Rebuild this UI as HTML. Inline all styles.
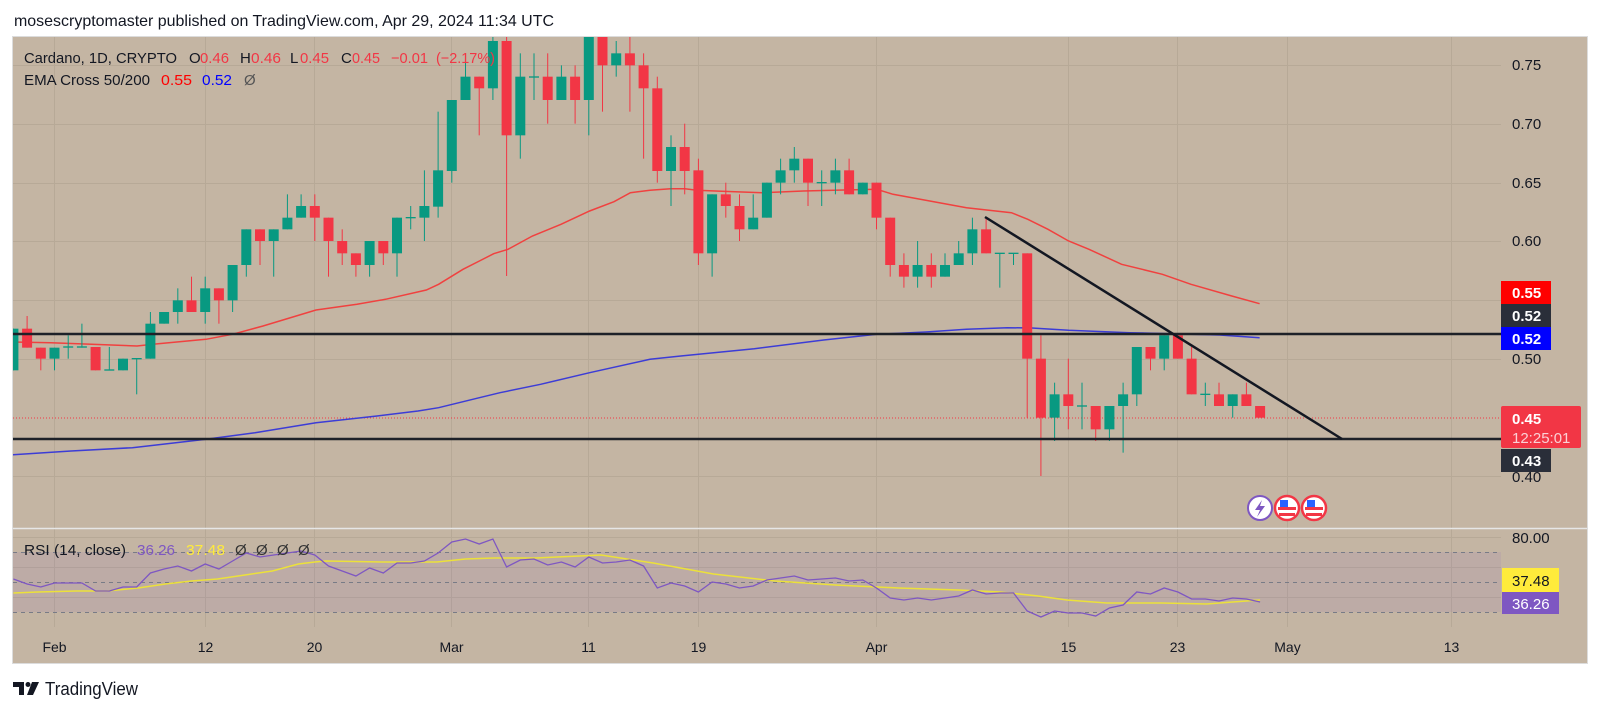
<!DOCTYPE html>
<html><head><meta charset="utf-8"><style>
html,body{margin:0;padding:0;background:#fff;}
svg{display:block;font-family:"Liberation Sans",sans-serif;}
</style></head><body>
<svg width="1600" height="712" viewBox="0 0 1600 712" xmlns="http://www.w3.org/2000/svg">
<defs>
<clipPath id="cp"><rect x="13" y="37" width="1488" height="491"/></clipPath>
<clipPath id="cr"><rect x="13" y="529" width="1488" height="98"/></clipPath>
</defs>
<rect width="1600" height="712" fill="#fff"/>
<text x="14" y="26" font-size="16" fill="#131722" textLength="540" lengthAdjust="spacingAndGlyphs">mosescryptomaster published on TradingView.com, Apr 29, 2024 11:34 UTC</text>
<rect x="12.5" y="36.5" width="1575" height="627" fill="#c4b5a3" stroke="#dcdcdc" stroke-width="1"/>
<!-- grid -->
<g stroke="#b7a997" stroke-width="1">
<path d="M54.5 37V627M205.5 37V627M314.5 37V627M451.5 37V627M588.5 37V627M698.5 37V627M876.5 37V627M1068.5 37V627M1177.5 37V627M1287.5 37V627M1451.5 37V627"/>
<path d="M13 65.5H1501M13 124.5H1501M13 183.5H1501M13 241.5H1501M13 300.5H1501M13 359.5H1501M13 476.5H1501"/>
<path d="M13 537.5H1501M13 567.5H1501M13 597.5H1501"/>
</g>
<!-- RSI band -->
<rect x="13" y="552" width="1488" height="60" fill="#7e57c2" fill-opacity="0.1"/>
<g stroke="#787b86" stroke-width="1" stroke-dasharray="4,4">
<path d="M13 552.5H1501M13 582.5H1501M13 612.5H1501"/>
</g>
<line x1="13" y1="528.5" x2="1587" y2="528.5" stroke="#e6e6e6" stroke-width="1.5"/>
<!-- price pane -->
<g clip-path="url(#cp)">
<line x1="13" y1="418" x2="1501" y2="418" stroke="#f23645" stroke-width="1" stroke-dasharray="1,2"/>
<polyline fill="none" stroke="#3c3cd6" stroke-width="1.5" points="10,455 71,451 132.4,447.7 206,439.3 255,432.7 316,422.7 377,416 418,411 438.6,407.7 479.4,397.7 500,392.7 540.6,384.3 589.6,372.7 650,359.3 680.8,356 754.3,348.7 823.7,340 876.7,334.3 925.7,332 966.5,329.3 1007.3,327.7 1031.8,328 1068.6,330.3 1129.8,332.7 1170.6,333.7 1219.6,335 1259.6,337.7"/>
<polyline fill="none" stroke="#f0413f" stroke-width="1.5" points="13,342 50.8,342.7 91.6,344.3 137,346 152.9,344.3 205.9,339.3 232.4,334.3 263,326 316,310 357,304.3 385.5,299.3 426.3,290 438.6,284.3 463,269.3 479.4,261 493.7,253.7 508,249.3 532.4,236 561,224.3 589.6,211 614,201.7 630.4,192.7 650,190.3 670.6,188.7 684.9,188.7 697,190.3 721.6,191.3 762.4,192.7 803.3,191 844,190 876.7,189.3 893,194.3 925.7,200.3 966.5,207.7 1011.4,212.7 1027.8,219.3 1048,229.3 1068.6,241 1089,249.3 1121.6,264.3 1162.4,274.3 1191,284.3 1231.8,296 1259.6,303.7"/>
<g transform="translate(54.5,36) scale(13.7,0.333333)">
<g fill="#089981">
<rect x="-3.036" y="878" width="0.073" height="125"/><rect x="-3.365" y="878" width="0.73" height="125"/>
<rect x="-0.036" y="935" width="0.073" height="68"/><rect x="-0.365" y="935" width="0.73" height="33"/>
<rect x="0.964" y="898" width="0.073" height="70"/><rect x="0.635" y="931" width="0.73" height="4"/>
<rect x="1.964" y="863" width="0.073" height="72"/><rect x="1.635" y="931" width="0.73" height="4"/>
<rect x="3.964" y="933" width="0.073" height="70"/><rect x="3.635" y="1000" width="0.73" height="4"/>
<rect x="4.964" y="968" width="0.073" height="35"/><rect x="4.635" y="968" width="0.73" height="35"/>
<rect x="5.964" y="968" width="0.073" height="107"/><rect x="5.635" y="966" width="0.73" height="4"/>
<rect x="6.964" y="828" width="0.073" height="140"/><rect x="6.635" y="863" width="0.73" height="105"/>
<rect x="7.964" y="828" width="0.073" height="35"/><rect x="7.635" y="828" width="0.73" height="35"/>
<rect x="8.964" y="757" width="0.073" height="106"/><rect x="8.635" y="793" width="0.73" height="35"/>
<rect x="10.964" y="722" width="0.073" height="141"/><rect x="10.635" y="757" width="0.73" height="71"/>
<rect x="12.964" y="687" width="0.073" height="141"/><rect x="12.635" y="687" width="0.73" height="106"/>
<rect x="13.964" y="580" width="0.073" height="142"/><rect x="13.635" y="580" width="0.73" height="107"/>
<rect x="15.964" y="580" width="0.073" height="142"/><rect x="15.635" y="580" width="0.73" height="35"/>
<rect x="16.964" y="475" width="0.073" height="105"/><rect x="16.635" y="545" width="0.73" height="35"/>
<rect x="17.964" y="475" width="0.073" height="70"/><rect x="17.635" y="510" width="0.73" height="35"/>
<rect x="22.964" y="615" width="0.073" height="107"/><rect x="22.635" y="615" width="0.73" height="72"/>
<rect x="24.964" y="545" width="0.073" height="177"/><rect x="24.635" y="545" width="0.73" height="107"/>
<rect x="25.964" y="510" width="0.073" height="70"/><rect x="25.635" y="543" width="0.73" height="4"/>
<rect x="26.964" y="403" width="0.073" height="212"/><rect x="26.635" y="510" width="0.73" height="35"/>
<rect x="27.964" y="227" width="0.073" height="318"/><rect x="27.635" y="403" width="0.73" height="109"/>
<rect x="28.964" y="192" width="0.073" height="248"/><rect x="28.635" y="192" width="0.73" height="213"/>
<rect x="29.964" y="52" width="0.073" height="140"/><rect x="29.635" y="122" width="0.73" height="70"/>
<rect x="31.964" y="-10" width="0.073" height="202"/><rect x="31.635" y="15" width="0.73" height="142"/>
<rect x="33.964" y="52" width="0.073" height="316"/><rect x="33.635" y="122" width="0.73" height="176"/>
<rect x="34.964" y="52" width="0.073" height="140"/><rect x="34.635" y="121" width="0.73" height="4"/>
<rect x="36.964" y="88" width="0.073" height="104"/><rect x="36.635" y="122" width="0.73" height="70"/>
<rect x="38.964" y="-30" width="0.073" height="328"/><rect x="38.635" y="-30" width="0.73" height="222"/>
<rect x="40.964" y="15" width="0.073" height="107"/><rect x="40.635" y="52" width="0.73" height="36"/>
<rect x="44.964" y="298" width="0.073" height="212"/><rect x="44.635" y="333" width="0.73" height="72"/>
<rect x="47.964" y="475" width="0.073" height="247"/><rect x="47.635" y="475" width="0.73" height="177"/>
<rect x="50.964" y="475" width="0.073" height="105"/><rect x="50.635" y="545" width="0.73" height="35"/>
<rect x="51.964" y="440" width="0.073" height="105"/><rect x="51.635" y="440" width="0.73" height="105"/>
<rect x="52.964" y="368" width="0.073" height="107"/><rect x="52.635" y="403" width="0.73" height="37"/>
<rect x="53.964" y="333" width="0.073" height="107"/><rect x="53.635" y="368" width="0.73" height="35"/>
<rect x="55.964" y="403" width="0.073" height="107"/><rect x="55.635" y="438" width="0.73" height="4"/>
<rect x="56.964" y="368" width="0.073" height="107"/><rect x="56.635" y="403" width="0.73" height="37"/>
<rect x="58.964" y="440" width="0.073" height="35"/><rect x="58.635" y="440" width="0.73" height="35"/>
<rect x="62.964" y="615" width="0.073" height="140"/><rect x="62.635" y="687" width="0.73" height="35"/>
<rect x="64.964" y="652" width="0.073" height="70"/><rect x="64.635" y="687" width="0.73" height="35"/>
<rect x="65.964" y="615" width="0.073" height="72"/><rect x="65.635" y="652" width="0.73" height="35"/>
<rect x="66.964" y="545" width="0.073" height="142"/><rect x="66.635" y="580" width="0.73" height="72"/>
<rect x="68.964" y="652" width="0.073" height="103"/><rect x="68.635" y="650" width="0.73" height="4"/>
<rect x="69.964" y="652" width="0.073" height="35"/><rect x="69.635" y="650" width="0.73" height="4"/>
<rect x="72.964" y="1040" width="0.073" height="175"/><rect x="72.635" y="1075" width="0.73" height="70"/>
<rect x="74.964" y="1040" width="0.073" height="140"/><rect x="74.635" y="1108" width="0.73" height="4"/>
<rect x="76.964" y="1110" width="0.073" height="105"/><rect x="76.635" y="1110" width="0.73" height="70"/>
<rect x="77.964" y="1040" width="0.073" height="210"/><rect x="77.635" y="1075" width="0.73" height="35"/>
<rect x="78.964" y="933" width="0.073" height="177"/><rect x="78.635" y="933" width="0.73" height="142"/>
<rect x="80.964" y="898" width="0.073" height="105"/><rect x="80.635" y="898" width="0.73" height="70"/>
<rect x="83.964" y="1040" width="0.073" height="70"/><rect x="83.635" y="1073" width="0.73" height="4"/>
<rect x="85.964" y="1075" width="0.073" height="70"/><rect x="85.635" y="1075" width="0.73" height="35"/>
</g>
<g fill="#f23645">
<rect x="-2.036" y="840" width="0.073" height="95"/><rect x="-2.365" y="878" width="0.73" height="57"/>
<rect x="-1.036" y="935" width="0.073" height="68"/><rect x="-1.365" y="935" width="0.73" height="33"/>
<rect x="2.964" y="933" width="0.073" height="70"/><rect x="2.635" y="933" width="0.73" height="70"/>
<rect x="9.964" y="722" width="0.073" height="106"/><rect x="9.635" y="793" width="0.73" height="35"/>
<rect x="11.964" y="757" width="0.073" height="106"/><rect x="11.635" y="757" width="0.73" height="36"/>
<rect x="14.964" y="580" width="0.073" height="107"/><rect x="14.635" y="580" width="0.73" height="35"/>
<rect x="18.964" y="475" width="0.073" height="140"/><rect x="18.635" y="510" width="0.73" height="35"/>
<rect x="19.964" y="545" width="0.073" height="177"/><rect x="19.635" y="545" width="0.73" height="70"/>
<rect x="20.964" y="580" width="0.073" height="107"/><rect x="20.635" y="615" width="0.73" height="37"/>
<rect x="21.964" y="652" width="0.073" height="70"/><rect x="21.635" y="652" width="0.73" height="35"/>
<rect x="23.964" y="615" width="0.073" height="72"/><rect x="23.635" y="615" width="0.73" height="37"/>
<rect x="30.964" y="122" width="0.073" height="176"/><rect x="30.635" y="122" width="0.73" height="35"/>
<rect x="32.964" y="-10" width="0.073" height="730"/><rect x="32.635" y="15" width="0.73" height="283"/>
<rect x="35.964" y="52" width="0.073" height="211"/><rect x="35.635" y="122" width="0.73" height="70"/>
<rect x="37.964" y="88" width="0.073" height="175"/><rect x="37.635" y="122" width="0.73" height="70"/>
<rect x="39.964" y="-30" width="0.073" height="257"/><rect x="39.635" y="-10" width="0.73" height="98"/>
<rect x="41.964" y="-10" width="0.073" height="237"/><rect x="41.635" y="52" width="0.73" height="36"/>
<rect x="42.964" y="52" width="0.073" height="316"/><rect x="42.635" y="88" width="0.73" height="69"/>
<rect x="43.964" y="122" width="0.073" height="318"/><rect x="43.635" y="157" width="0.73" height="248"/>
<rect x="45.964" y="263" width="0.073" height="212"/><rect x="45.635" y="333" width="0.73" height="72"/>
<rect x="46.964" y="368" width="0.073" height="319"/><rect x="46.635" y="403" width="0.73" height="249"/>
<rect x="48.964" y="440" width="0.073" height="105"/><rect x="48.635" y="475" width="0.73" height="35"/>
<rect x="49.964" y="475" width="0.073" height="140"/><rect x="49.635" y="510" width="0.73" height="70"/>
<rect x="54.964" y="368" width="0.073" height="142"/><rect x="54.635" y="368" width="0.73" height="72"/>
<rect x="57.964" y="368" width="0.073" height="107"/><rect x="57.635" y="403" width="0.73" height="72"/>
<rect x="59.964" y="440" width="0.073" height="140"/><rect x="59.635" y="440" width="0.73" height="105"/>
<rect x="60.964" y="545" width="0.073" height="177"/><rect x="60.635" y="545" width="0.73" height="142"/>
<rect x="61.964" y="652" width="0.073" height="103"/><rect x="61.635" y="687" width="0.73" height="35"/>
<rect x="63.964" y="652" width="0.073" height="103"/><rect x="63.635" y="687" width="0.73" height="35"/>
<rect x="67.964" y="545" width="0.073" height="107"/><rect x="67.635" y="580" width="0.73" height="72"/>
<rect x="70.964" y="652" width="0.073" height="493"/><rect x="70.635" y="652" width="0.73" height="316"/>
<rect x="71.964" y="898" width="0.073" height="422"/><rect x="71.635" y="968" width="0.73" height="177"/>
<rect x="73.964" y="968" width="0.073" height="212"/><rect x="73.635" y="1075" width="0.73" height="35"/>
<rect x="75.964" y="1110" width="0.073" height="105"/><rect x="75.635" y="1110" width="0.73" height="70"/>
<rect x="79.964" y="933" width="0.073" height="70"/><rect x="79.635" y="933" width="0.73" height="35"/>
<rect x="81.964" y="898" width="0.073" height="70"/><rect x="81.635" y="898" width="0.73" height="70"/>
<rect x="82.964" y="933" width="0.073" height="142"/><rect x="82.635" y="968" width="0.73" height="107"/>
<rect x="84.964" y="1040" width="0.073" height="70"/><rect x="84.635" y="1075" width="0.73" height="35"/>
<rect x="86.964" y="1040" width="0.073" height="70"/><rect x="86.635" y="1075" width="0.73" height="35"/>
<rect x="87.964" y="1110" width="0.073" height="35"/><rect x="87.635" y="1110" width="0.73" height="35"/>
</g>
</g>
<line x1="13" y1="334" x2="1501" y2="334" stroke="#1e2128" stroke-width="2.5"/>
<line x1="13" y1="439" x2="1501" y2="439" stroke="#1e2128" stroke-width="2.5"/>
<line x1="985" y1="217" x2="1342" y2="439" stroke="#131722" stroke-width="2.5"/>
</g>
<!-- legend -->
<g font-size="15">
<text x="24" y="63" fill="#131722" textLength="153" lengthAdjust="spacingAndGlyphs">Cardano, 1D, CRYPTO</text>
<text x="189" y="63" fill="#131722">O</text><text x="200" y="63" fill="#f23645" textLength="29" lengthAdjust="spacingAndGlyphs">0.46</text>
<text x="240" y="63" fill="#131722">H</text><text x="251" y="63" fill="#f23645" textLength="30" lengthAdjust="spacingAndGlyphs">0.46</text>
<text x="290" y="63" fill="#131722">L</text><text x="300" y="63" fill="#f23645" textLength="29" lengthAdjust="spacingAndGlyphs">0.45</text>
<text x="341" y="63" fill="#131722">C</text><text x="352" y="63" fill="#f23645" textLength="28" lengthAdjust="spacingAndGlyphs">0.45</text>
<text x="391" y="63" fill="#f23645" textLength="37" lengthAdjust="spacingAndGlyphs">−0.01</text>
<text x="436" y="63" fill="#f23645" textLength="59" lengthAdjust="spacingAndGlyphs">(−2.17%)</text>
<text x="24" y="85" fill="#131722" textLength="126" lengthAdjust="spacingAndGlyphs">EMA Cross 50/200</text>
<text x="161" y="85" fill="#ff0000" textLength="31" lengthAdjust="spacingAndGlyphs">0.55</text>
<text x="202" y="85" fill="#0000ff" textLength="30" lengthAdjust="spacingAndGlyphs">0.52</text>
<text x="244" y="85" fill="#555">Ø</text>
</g>
<!-- event icons -->
<g>
<circle cx="1260" cy="508" r="12" fill="#fff" stroke="#7e57c2" stroke-width="2"/>
<path d="M1262 500 L1255 510 L1260 510 L1257 517 L1265 506 L1260 506 Z" fill="#7e57c2"/>
<circle cx="1287" cy="508" r="12" fill="#fff" stroke="#f23645" stroke-width="2.5"/>
<rect x="1278" y="507" width="18" height="3" fill="#f23645"/><rect x="1279" y="513" width="16" height="3" fill="#f23645"/>
<rect x="1280" y="500" width="8" height="7" fill="#2962ff"/>
<circle cx="1314" cy="508" r="12" fill="#fff" stroke="#f23645" stroke-width="2.5"/>
<rect x="1305" y="507" width="18" height="3" fill="#f23645"/><rect x="1306" y="513" width="16" height="3" fill="#f23645"/>
<rect x="1307" y="500" width="8" height="7" fill="#2962ff"/>
</g>
<!-- RSI -->
<g clip-path="url(#cr)">
<g transform="translate(54.5,0) scale(13.7,1)">
<polyline fill="none" stroke="#ece13a" stroke-width="1.5" vector-effect="non-scaling-stroke" points="-3,593 -1.2,592 1.6,591 3.8,591 6.1,588 8.1,584 10,581 11.9,579 13.9,575 15.9,571 17.8,564 19,562 19.8,561 24,562 27.9,562 30,559 32.1,558 35.1,558 39.9,555 43.7,563 48.1,574 52.6,581 57,585 61.6,588 66,590 69,592 71.8,596 73.9,600 76.8,603 80.8,603 84.1,604 86,602 88,600"/>
<polyline fill="none" stroke="#7e57c2" stroke-width="1.3" vector-effect="non-scaling-stroke" points="-3,579 -2,584 -1,587 0,583 1,583 2,583 3,591 4,591 5,587 6,587 7,573 8,569 9,566 10,571 11,564 12,569 13,561 14,553 15,557 16,555 17,553 18,551 19,555 20,566 21,571 22,576 23,568 24,573 25,563 26,563 27,561 28,553 29,542 30,539 31,544 32,539 33,567 34,560 35,559 36,565 37,562 38,567 39,557 40,563 41,562 42,560 43,566 44,588 45,583 46,586 47,592 48,582 49,584 50,588 51,586 52,580 53,578 54,576 55,580 56,579 57,578 58,581 59,580 60,588 61,598 62,600 63,598 64,600 65,598 66,596 67,590 68,594 69,593 70,593 71,611 72,617 73,611 74,613 75,613 76,616 77,608 78,605 79,592 80,594 81,588 82,592 83,599 84,599 85,601 86,598 87,599 88,602"/>
</g>
</g>
<g font-size="15">
<text x="24" y="555" fill="#131722" textLength="102" lengthAdjust="spacingAndGlyphs">RSI (14, close)</text>
<text x="137" y="555" fill="#7e57c2" textLength="38" lengthAdjust="spacingAndGlyphs">36.26</text>
<text x="186" y="555" fill="#ffeb3b" textLength="39" lengthAdjust="spacingAndGlyphs">37.48</text>
<text x="235" y="555" fill="#333">Ø</text><text x="256" y="555" fill="#333">Ø</text><text x="277" y="555" fill="#333">Ø</text><text x="298" y="555" fill="#333">Ø</text>
</g>
<!-- price axis -->
<g font-size="15" fill="#131722">
<text x="1512" y="70">0.75</text>
<text x="1512" y="129">0.70</text>
<text x="1512" y="188">0.65</text>
<text x="1512" y="246">0.60</text>
<text x="1512" y="364">0.50</text>
<text x="1512" y="482">0.40</text>
<text x="1512" y="543">80.00</text>
</g>
<g font-size="15" font-weight="bold" fill="#fff">
<rect x="1501" y="281" width="50" height="23" fill="#ff0000"/><text x="1512" y="298">0.55</text>
<rect x="1501" y="304" width="50" height="23" fill="#2a2e39"/><text x="1512" y="321">0.52</text>
<rect x="1501" y="327" width="50" height="23" fill="#0000ff"/><text x="1512" y="344">0.52</text>
<rect x="1501" y="406" width="80" height="42" rx="2" fill="#f23645"/><text x="1512" y="424">0.45</text>
<text x="1512" y="443" font-weight="normal" fill="#fbd0d4">12:25:01</text>
<rect x="1501" y="449" width="50" height="23" fill="#2a2e39"/><text x="1512" y="466">0.43</text>
<rect x="1502" y="568" width="57" height="24" fill="#ffeb3b"/><text x="1512" y="586" fill="#131722" font-weight="normal">37.48</text>
<rect x="1502" y="592" width="57" height="22" fill="#7e57c2"/><text x="1512" y="609" font-weight="normal">36.26</text>
</g>
<!-- time axis -->
<g font-size="14" fill="#131722" text-anchor="middle">
<text x="54.5" y="652">Feb</text>
<text x="205.5" y="652">12</text>
<text x="314.5" y="652">20</text>
<text x="451.5" y="652">Mar</text>
<text x="588.5" y="652">11</text>
<text x="698.5" y="652">19</text>
<text x="876.5" y="652">Apr</text>
<text x="1068.5" y="652">15</text>
<text x="1177.5" y="652">23</text>
<text x="1287.5" y="652">May</text>
<text x="1451.5" y="652">13</text>
</g>
<!-- footer -->
<g fill="#131722">
<rect x="13" y="682" width="11" height="5"/>
<rect x="19" y="682" width="5" height="13"/>
<circle cx="28" cy="684.5" r="2.5"/>
<polygon points="32,682 39,682 33,695 27,695"/>
<text x="45" y="695" font-size="18" textLength="93" lengthAdjust="spacingAndGlyphs">TradingView</text>
</g>
</svg>
</body></html>
